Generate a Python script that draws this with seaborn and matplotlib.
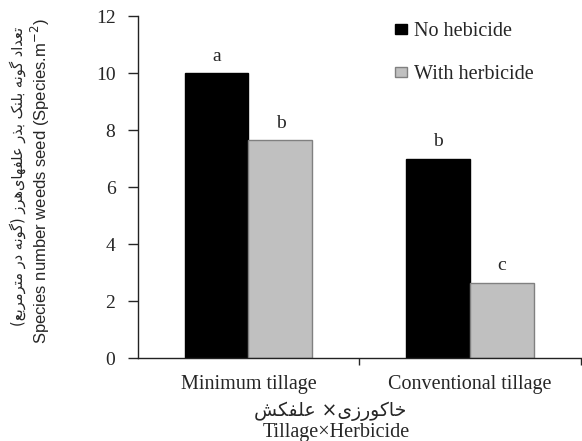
import pandas as pd
import numpy as np
import matplotlib
matplotlib.use("Agg")
import matplotlib.pyplot as plt
from matplotlib.patches import Patch
import seaborn as sns

# data
tillage = ["Minimum tillage", "Conventional tillage"]
treatments = ["No hebicide", "With herbicide"]
no_herbicide = [10.0, 7.0]
with_herbicide = [7.65, 2.65]
letters_no = ["a", "b"]
letters_with = ["b", "c"]
bar_colors = ["#000000", "#c0c0c0"]
edge_colors = ["#000000", "#808080"]

ylabel_fa = "تعداد گونه بلنک بذر علفهای\u200cهرز (گونه در مترمربع)"
ylabel_en = "Species number weeds seed (Species.m$^{-2}$)"
xlabel_fa = "خاکورزی× علفکش"
xlabel_en = "Tillage×Herbicide"

# simple persian shaping (no arabic_reshaper available offline)
FORMS = {
    "ا": ("\uFE8D", "\uFE8E", None, None),
    "ب": ("\uFE8F", "\uFE90", "\uFE91", "\uFE92"),
    "ت": ("\uFE95", "\uFE96", "\uFE97", "\uFE98"),
    "خ": ("\uFEA5", "\uFEA6", "\uFEA7", "\uFEA8"),
    "د": ("\uFEA9", "\uFEAA", None, None),
    "ذ": ("\uFEAB", "\uFEAC", None, None),
    "ر": ("\uFEAD", "\uFEAE", None, None),
    "ز": ("\uFEAF", "\uFEB0", None, None),
    "ش": ("\uFEB5", "\uFEB6", "\uFEB7", "\uFEB8"),
    "ع": ("\uFEC9", "\uFECA", "\uFECB", "\uFECC"),
    "ف": ("\uFED1", "\uFED2", "\uFED3", "\uFED4"),
    "ل": ("\uFEDD", "\uFEDE", "\uFEDF", "\uFEE0"),
    "م": ("\uFEE1", "\uFEE2", "\uFEE3", "\uFEE4"),
    "ن": ("\uFEE5", "\uFEE6", "\uFEE7", "\uFEE8"),
    "ه": ("\uFEE9", "\uFEEA", "\uFEEB", "\uFEEC"),
    "و": ("\uFEED", "\uFEEE", None, None),
    "ک": ("\uFB8E", "\uFB8F", "\uFB90", "\uFB91"),
    "گ": ("\uFB92", "\uFB93", "\uFB94", "\uFB95"),
    "ی": ("\uFBFC", "\uFBFD", "\uFBFE", "\uFBFF"),
}


def shape(text):
    out = []
    for i, c in enumerate(text):
        if c not in FORMS:
            if c != "\u200c":
                out.append(c)
            continue
        prev = text[i - 1] if i > 0 else None
        nxt = text[i + 1] if i + 1 < len(text) else None
        iso, fin, ini, med = FORMS[c]
        jp = prev in FORMS and FORMS[prev][2] is not None
        jn = ini is not None and nxt in FORMS
        if jp and jn:
            out.append(med)
        elif jp:
            out.append(fin)
        elif jn:
            out.append(ini)
        else:
            out.append(iso)
    s = "".join(out)[::-1]
    return s.translate(str.maketrans("()", ")("))


df = pd.DataFrame({
    "tillage": tillage * 2,
    "treatment": [treatments[0]] * 2 + [treatments[1]] * 2,
    "value": no_herbicide + with_herbicide,
})

sns.set_style("white")
plt.rcParams["font.family"] = ["Liberation Serif", "DejaVu Sans"]

fig = plt.figure(figsize=(5.82, 4.41), dpi=100)
ax = fig.add_axes([0.2366, 0.1875, 0.7614, 0.7762])

sns.barplot(data=df, x="tillage", y="value", hue="treatment", palette=bar_colors,
            width=0.577, gap=0, legend=False, ax=ax, saturation=1)

for cont, ec, labs in zip(ax.containers, edge_colors, [letters_no, letters_with]):
    for p, lab in zip(cont.patches, labs):
        p.set_edgecolor(ec)
        p.set_linewidth(1.0)
        ax.text(p.get_x() + p.get_width() / 2, p.get_height() + 0.3, lab,
                ha="center", va="bottom", fontsize=14)

ax.set_xlim(-0.5, 1.5)
ax.set_ylim(0, 12)
ax.set_yticks(np.arange(0, 13, 2))
ax.tick_params(axis="y", direction="out", length=7, width=1, labelsize=14, pad=9, left=True)
ax.tick_params(axis="x", which="major", length=0, labelsize=14.5, pad=12)
ax.set_xticks([0.5, 1.5], minor=True)
ax.tick_params(axis="x", which="minor", direction="out", length=5, width=1, bottom=True)
for s in ["top", "right"]:
    ax.spines[s].set_visible(False)
for s in ["left", "bottom"]:
    ax.spines[s].set_color("#222222")
    ax.spines[s].set_linewidth(1)
ax.set_xlabel("")
ax.set_ylabel("")

fig.text(0.07, 0.59, ylabel_en, rotation=90, ha="center", va="center",
         fontsize=12, family=["Liberation Sans", "DejaVu Sans"])
fig.text(0.03, 0.6, shape(ylabel_fa), rotation=90, ha="center", va="center",
         fontsize=10.5, family=["DejaVu Sans"])
fig.text(0.567, 0.068, shape(xlabel_fa), ha="center", va="center",
         fontsize=13.5, family=["DejaVu Sans"])
fig.text(0.577, 0.02, xlabel_en, ha="center", va="center", fontsize=14.5)

handles = [Patch(facecolor=c, edgecolor=e) for c, e in zip(bar_colors, edge_colors)]
fig.legend(handles, treatments, loc="upper left", bbox_to_anchor=(0.665, 0.968),
           frameon=False, fontsize=14.5, handlelength=0.6, handleheight=0.4,
           handletextpad=0.35, labelspacing=1.2, borderaxespad=0)

fig.savefig("out.png", dpi=100)
